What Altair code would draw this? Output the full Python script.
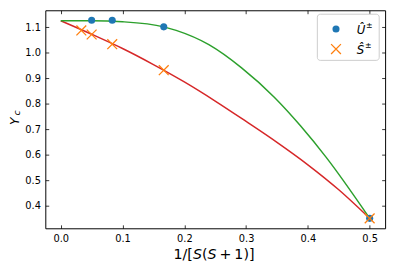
import altair as alt
import pandas as pd

# ---- data ----
u_x = [0.05, 0.0833, 0.1667, 0.5]
u_y = [1.127, 1.127, 1.101, 0.35]

s_x = [0.0333, 0.05, 0.0833, 0.1667, 0.5]
s_y = [1.087, 1.071, 1.033, 0.931, 0.35]

green_x = [0.0, 0.05, 0.1, 0.1667, 0.1868, 0.2397, 0.2927, 0.3456, 0.388, 0.43, 0.5]
green_y = [1.125, 1.125, 1.121, 1.101, 1.087, 1.031, 0.94, 0.825, 0.713, 0.588, 0.35]

red_x = [0.0, 0.05, 0.1, 0.15, 0.2, 0.25, 0.3, 0.35, 0.4, 0.45, 0.5]
red_y = [1.125, 1.072, 1.016, 0.953, 0.885, 0.81, 0.73, 0.648, 0.56, 0.462, 0.35]

x_ticks = [0.0, 0.1, 0.2, 0.3, 0.4, 0.5]
y_ticks = [0.4, 0.5, 0.6, 0.7, 0.8, 0.9, 1.0, 1.1]

BLUE, ORANGE, GREEN, RED = "#1f77b4", "#ff7f0e", "#2ca02c", "#d62728"
FONT = "DejaVu Sans"

u_df = pd.DataFrame({"x": u_x, "y": u_y})
s_df = pd.DataFrame({"x": s_x, "y": s_y})
g_df = pd.DataFrame({"x": green_x, "y": green_y})
r_df = pd.DataFrame({"x": red_x, "y": red_y})

xs = alt.Scale(domain=[-0.025, 0.525], nice=False, zero=False)
ys = alt.Scale(domain=[0.311, 1.166], nice=False, zero=False)

ax_common = dict(offset=-3.5, tickSize=3.5, domain=False, grid=False,
                 tickColor="black", tickWidth=0.8, title=None)

x_bottom = alt.Axis(orient="bottom", values=x_ticks, format=".1f", labelPadding=5,
                    labelFont=FONT, labelFontSize=10, labelColor="black", **ax_common)
y_left = alt.Axis(orient="left", values=y_ticks, format=".1f", labelPadding=5,
                  labelFont=FONT, labelFontSize=10, labelColor="black", **ax_common)
x_top = alt.Axis(orient="top", values=x_ticks, labels=False, **ax_common)
y_right = alt.Axis(orient="right", values=y_ticks, labels=False, **ax_common)

red_line = alt.Chart(r_df).mark_line(color=RED, strokeWidth=1.5, interpolate="monotone").encode(
    x=alt.X("x:Q", scale=xs, axis=x_bottom),
    y=alt.Y("y:Q", scale=ys, axis=y_left),
)
green_line = alt.Chart(g_df).mark_line(color=GREEN, strokeWidth=1.5, interpolate="monotone").encode(
    x=alt.X("x:Q", scale=xs, axis=x_top),
    y=alt.Y("y:Q", scale=ys, axis=y_right),
)
u_pts = alt.Chart(u_df).mark_point(shape="circle", filled=True, color=BLUE, size=52, opacity=1).encode(
    x=alt.X("x:Q", scale=xs, axis=None),
    y=alt.Y("y:Q", scale=ys, axis=None),
)
XPATH = "M-1,-1L1,1M-1,1L1,-1"
s_pts = alt.Chart(s_df).mark_point(shape=XPATH, filled=False, color=ORANGE, size=100,
                                   strokeWidth=1.3, opacity=1).encode(
    x=alt.X("x:Q", scale=xs, axis=None),
    y=alt.Y("y:Q", scale=ys, axis=None),
)

# ---- legend (decoration) ----
leg_df = pd.DataFrame({"d": [0]})
leg_box = alt.Chart(leg_df).mark_rect(fill="white", fillOpacity=0.8, stroke="#cccccc",
                                      strokeWidth=1, cornerRadius=3).encode(
    x=alt.value(277), x2=alt.value(340), y=alt.value(4), y2=alt.value(51))
leg_u = alt.Chart(leg_df).mark_point(shape="circle", filled=True, color=BLUE, size=52, opacity=1).encode(
    x=alt.value(296), y=alt.value(19))
leg_s = alt.Chart(leg_df).mark_point(shape=XPATH, filled=False, color=ORANGE, size=100,
                                     strokeWidth=1.3, opacity=1).encode(
    x=alt.value(296), y=alt.value(39.5))

def txt(s, x, y, size, style="normal", align="left", angle=0, baseline="alphabetic"):
    kw = dict(text=s, font=FONT, fontSize=size, fontStyle=style, align=align,
              baseline=baseline, color="black")
    if angle:
        kw["angle"] = angle
    return alt.Chart(leg_df).mark_text(**kw).encode(x=alt.value(x), y=alt.value(y))

texts = [
    txt("Û", 317, 24, 12, "italic"),
    txt("±", 326.5, 18, 8),
    txt("Ŝ", 317, 44.5, 12, "italic"),
    txt("±", 325.5, 38.5, 8),
    # y title: Y_c
    txt("Y", -27, 113, 12.5, "italic", align="center", angle=270),
    txt("c", -25.5, 104.5, 9.5, "italic", align="center", angle=270),
]

# x title: 1/[S(S+1)]
fs = 14.5
ty = 253
x0 = 176.5 - 46
k = fs / 2048.0
w1, wsl, wbr, wS, wp, wplus = 1303 * k, 690 * k, 799 * k, 1300 * k, 799 * k, 1716 * k
gap = 3.0
pos = x0
texts.append(txt("1/[", pos, ty, fs)); pos += w1 + wsl + wbr
texts.append(txt("S", pos, ty, fs, "italic")); pos += wS
texts.append(txt("(", pos, ty, fs)); pos += wp
texts.append(txt("S", pos, ty, fs, "italic")); pos += wS + gap
texts.append(txt("+", pos, ty, fs)); pos += wplus + gap
texts.append(txt("1)]", pos, ty, fs))

chart = alt.layer(red_line, green_line, u_pts, s_pts, leg_box, leg_u, leg_s, *texts).resolve_axis(
    x="independent", y="independent"
).properties(
    width=346, height=222,
    autosize=alt.AutoSizeParams(type="none"),
    padding={"left": 38, "top": 0, "right": 6, "bottom": 32},
).configure_view(stroke="black", strokeWidth=1)

chart.save("out.html", embed_options={"renderer": "svg", "actions": False})
